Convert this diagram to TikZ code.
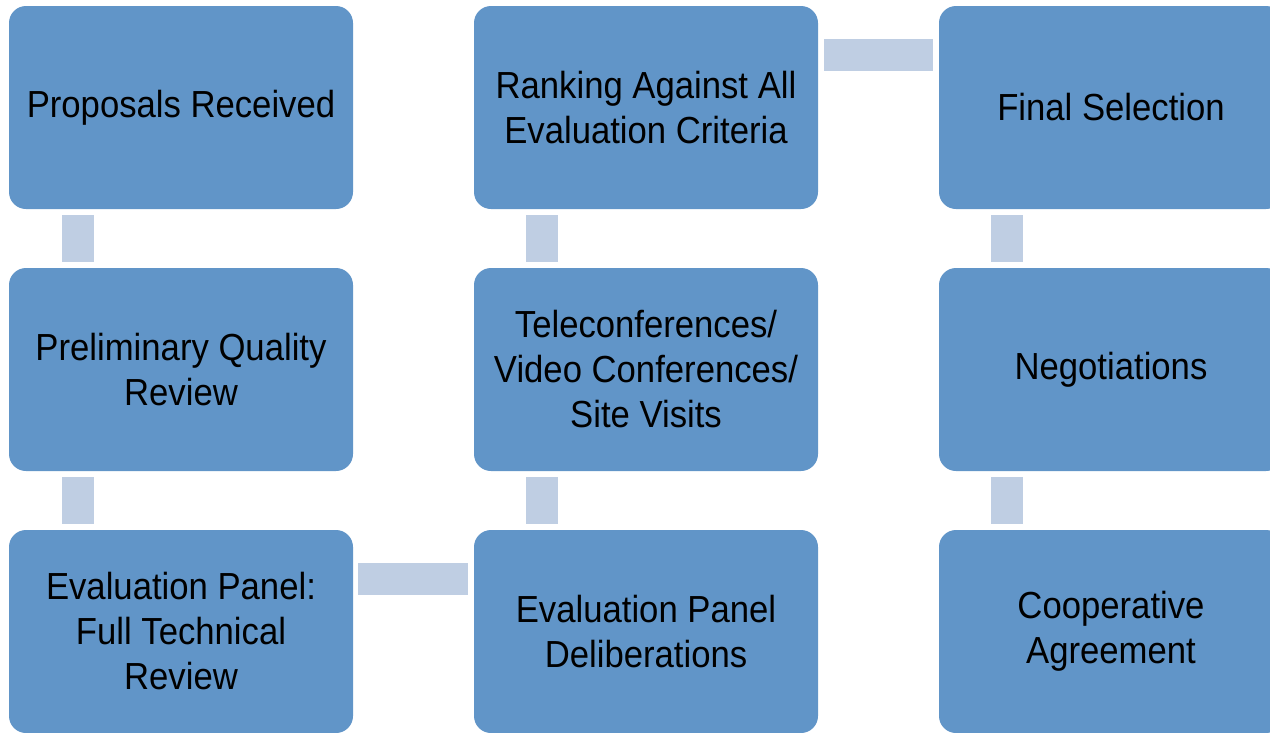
\documentclass[tikz,border=0pt]{standalone}
\usepackage{fontspec}
\setmainfont{Liberation Sans}[FakeStretch=0.92]
\usepackage{tikz}
\usetikzlibrary{calc}
\definecolor{boxblue}{RGB}{97,149,200}
\definecolor{linkblue}{RGB}{191,206,227}
\tikzset{
    stage/.style={fill=boxblue, rounded corners=17pt, minimum width=344pt, minimum height=203pt, inner sep=0pt, text width=336pt, align=flush center, font=\fontsize{37.7}{45}\selectfont},
    link/.style={fill=linkblue}
}

\begin{document}
\begin{tikzpicture}[x=1pt,y=-1pt]
\useasboundingbox (0,0) rectangle (1270,732);
\clip (0,0) rectangle (1270,732);
\foreach \p/\x/\y/\labeltext in {prop/181/107.5/{Proposals Received}, prel/181/369.5/{Preliminary Quality\\Review}, eval/181/631.5/{Evaluation Panel:\\Full Technical\\Review}, delib/646/631.5/{Evaluation Panel\\Deliberations}, tele/646/369.5/{Teleconferences/\\Video Conferences/\\Site Visits}, rank/646/107.5/{Ranking Against All\\Evaluation Criteria}, final/1111/107.5/{Final Selection}, nego/1111/369.5/{Negotiations}, coop/1111/631.5/{Cooperative\\Agreement}}{
    \node[stage] (\p) at (\x,\y) {\labeltext};
}
% vertical links
\fill[link] ($(prop.south west)+(53,6)$) rectangle ($(prel.north west)+(85,-6)$);
\fill[link] ($(prel.south west)+(53,6)$) rectangle ($(eval.north west)+(85,-6)$);
\fill[link] ($(tele.south west)+(52,6)$) rectangle ($(delib.north west)+(84,-6)$);
\fill[link] ($(rank.south west)+(52,6)$) rectangle ($(tele.north west)+(84,-6)$);
\fill[link] ($(final.south west)+(52,6)$) rectangle ($(nego.north west)+(84,-6)$);
\fill[link] ($(nego.south west)+(52,6)$) rectangle ($(coop.north west)+(84,-6)$);
% horizontal links
\fill[link] ($(eval.north east)+(5,33)$) rectangle ($(delib.north west)+(-6,65)$);
\fill[link] ($(rank.north east)+(6,33)$) rectangle ($(final.north west)+(-6,65)$);
\end{tikzpicture}
\end{document}
